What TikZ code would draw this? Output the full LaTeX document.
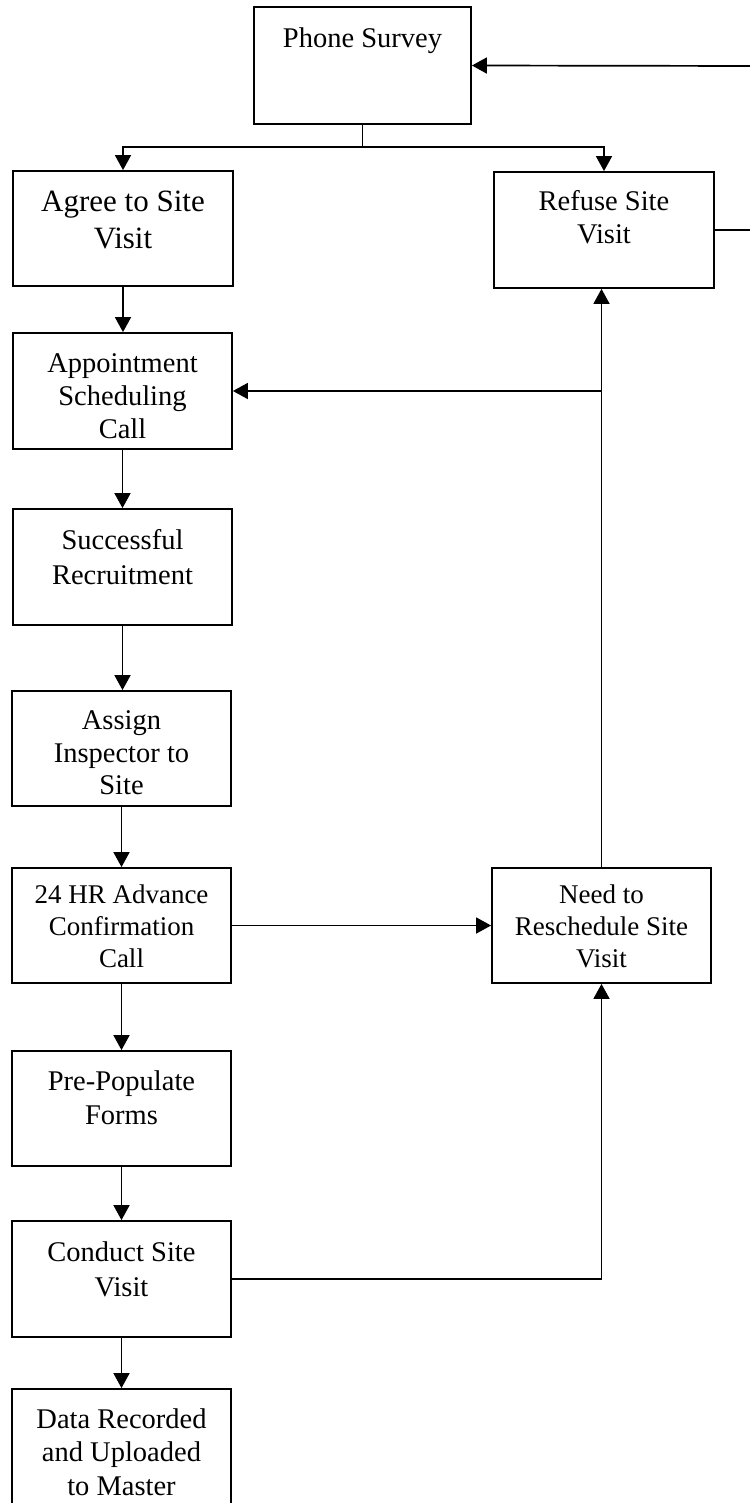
\documentclass[tikz,border=0pt]{standalone}
\usepackage{fontspec}
\setmainfont{Liberation Serif}
\usetikzlibrary{arrows.meta}
\newcommand{\bxt}[6]{\parbox[c][#2pt][t]{#1pt}{\centering\fontsize{#4}{#5}\selectfont\vspace*{#3pt}\strut #6\par}}
\begin{document}
\begin{tikzpicture}[x=1pt,y=-1pt,
  box/.style={draw, line width=1.8pt, inner sep=0pt},
  ln/.style={line width=1.7pt},
  arr/.style={line width=1.7pt, -{Triangle[length=15pt,width=16pt]}}]
\useasboundingbox (0,0) rectangle (749,1503);
\node[box] (ps) at (362.5,65.5) {\bxt{217}{117}{17}{28.5}{33}{Phone Survey}};
\node[box] (ag) at (123,228.5) {\bxt{220}{115}{15}{31}{37}{Agree to Site\\Visit}};
\node[box] (rf) at (604,230) {\bxt{220}{116}{15}{28.5}{33}{Refuse Site\\Visit}};
\node[box] (ap) at (122.5,391) {\bxt{219}{116}{16}{28.5}{33}{Appointment\\Scheduling\\Call}};
\node[box] (sr) at (122.5,567) {\bxt{219}{116}{16}{28.5}{35}{Successful\\Recruitment}};
\node[box] (as) at (121.5,748.5) {\bxt{219}{115}{16}{28.5}{32.5}{Assign\\Inspector to\\Site}};
\node[box] (hr) at (121.5,925.5) {\bxt{219}{115}{12.6}{27}{32}{24 HR Advance\\Confirmation\\Call}};
\node[box] (nd) at (601.5,925.5) {\bxt{219}{115}{12.6}{27}{32}{Need to\\Reschedule Site\\Visit}};
\node[box] (pp) at (121.5,1108.5) {\bxt{219}{115}{16}{28.5}{34}{Pre-Populate\\Forms}};
\node[box] (cs) at (121.5,1279) {\bxt{219}{116}{16}{28.5}{35}{Conduct Site\\Visit}};
\node[box] (dr) at (121.5,1446.5) {\bxt{219}{115}{16}{28.5}{33.5}{Data Recorded\\and Uploaded\\to Master}};
% connectors
\coordinate (sp) at (362.5,147);
\coordinate (rin) at (752,66);
\coordinate (rout) at (752,230);
\coordinate (j) at (601.5,391);
\draw[ln] (ps.south) -- (sp);
\draw[arr] (sp) -| (ag.north);
\draw[arr] (sp) -| (rf.north);
\draw[arr] (rin) -- (ps.east);
\draw[ln] (rf.east) -- (rout);
\draw[arr] (ag.south) -- (ag.south |- ap.north);
\draw[arr] (ap.south) -- (ap.south |- sr.north);
\draw[arr] (sr.south) -- (sr.south |- as.north);
\draw[arr] (as.south) -- (as.south |- hr.north);
\draw[arr] (hr.south) -- (hr.south |- pp.north);
\draw[arr] (pp.south) -- (pp.south |- cs.north);
\draw[arr] (cs.south) -- (cs.south |- dr.north);
\draw[arr] (hr.east) -- (hr.east -| nd.west);
\draw[ln] (nd.north) -- (j);
\draw[arr] (j) -- (ap.east);
\draw[arr] (j) -- (j |- rf.south);
\draw[arr] (cs.east) -| (nd.south);
\end{tikzpicture}
\end{document}
